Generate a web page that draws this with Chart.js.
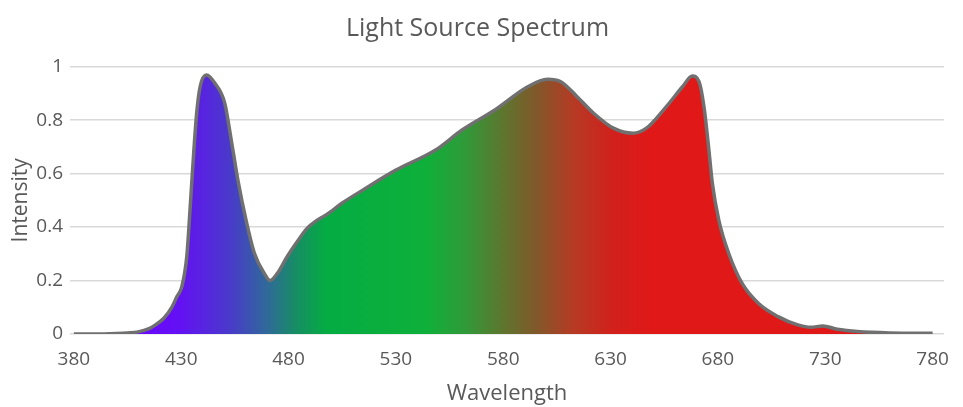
<!DOCTYPE html>
<html>
<head>
<meta charset="utf-8">
<script src="https://cdn.jsdelivr.net/npm/chart.js@4/dist/chart.umd.min.js"></script>
<style>
  html, body { margin: 0; padding: 0; background: #ffffff; }
  #wrap { width: 963px; height: 407px; position: relative; }
</style>
</head>
<body>
<div id="wrap"><canvas id="c" width="963" height="407"></canvas></div>
<script>
// ---- data ----
const wavelengths = [380, 390, 400, 405, 410, 415, 418, 422, 425.6, 428, 430.3, 432.6, 434.2, 435.7, 437.2, 438.8, 441.8, 445.7, 450.3, 453.3, 456.4, 460.2, 464.1, 468.7, 471.4, 474.8, 479.4, 484, 488.6, 493.2, 497.8, 505, 514.7, 530, 548.5, 560.8, 576.1, 591.4, 600.6, 606.8, 614.4, 622.1, 631.3, 640.5, 646.7, 655.9, 663.5, 668.1, 671.2, 673.5, 675.8, 677.4, 680.4, 685, 691.2, 698.8, 708, 717.2, 723.4, 728.8, 735.6, 744.9, 760, 780];
const intensity   = [0, 0, 0.002, 0.004, 0.008, 0.02, 0.034, 0.06, 0.10, 0.14, 0.177, 0.29, 0.476, 0.663, 0.826, 0.925, 0.969, 0.938, 0.863, 0.726, 0.576, 0.426, 0.302, 0.227, 0.20, 0.227, 0.29, 0.345, 0.395, 0.425, 0.447, 0.49, 0.539, 0.613, 0.688, 0.763, 0.838, 0.925, 0.953, 0.944, 0.888, 0.826, 0.77, 0.751, 0.77, 0.85, 0.925, 0.965, 0.944, 0.85, 0.688, 0.564, 0.426, 0.302, 0.19, 0.115, 0.065, 0.034, 0.025, 0.03, 0.018, 0.009, 0.004, 0.003];
const xTicks = [380, 430, 480, 530, 580, 630, 680, 730, 780];
const yTicks = [0, 0.2, 0.4, 0.6, 0.8, 1];
const yTickLabels = ['0', '0.2', '0.4', '0.6', '0.8', '1'];
const titleText = 'Light Source Spectrum';
const xTitle = 'Wavelength';
const yTitle = 'Intensity';

// ---- styles ----
const gradStopNm = [410, 428.8, 451.8, 470.2, 484, 497.8, 543.9, 562.3, 580.7, 594.5, 612.9, 631.3, 649.7, 780];
const gradStopColor = ['#6a08ff', '#6410f4', '#4a38cc', '#2f6a98', '#158f62', '#04ac42', '#0eb03a', '#309a38', '#60742e', '#7e5a2a', '#b63a24', '#d2201c', '#e01818', '#e01818'];
const textColor = '#595959';
const fontFam = '"Open Sans", "DejaVu Sans", sans-serif';

function fillGradient(ctx) {
  const chart = ctx.chart;
  const xs = chart.scales.x;
  if (!chart.chartArea || !xs) return '#00b040';
  const x0 = xs.getPixelForValue(gradStopNm[0]);
  const x1 = xs.getPixelForValue(gradStopNm[gradStopNm.length - 1]);
  const g = chart.ctx.createLinearGradient(x0, 0, x1, 0);
  const span = gradStopNm[gradStopNm.length - 1] - gradStopNm[0];
  gradStopNm.forEach((nm, i) => {
    g.addColorStop((nm - gradStopNm[0]) / span, gradStopColor[i]);
  });
  return g;
}

const points = wavelengths.map((w, i) => ({ x: w, y: intensity[i] }));

new Chart(document.getElementById('c'), {
  type: 'line',
  data: {
    datasets: [{
      data: points,
      borderColor: '#707070',
      borderWidth: 3.5,
      backgroundColor: fillGradient,
      fill: 'origin',
      pointRadius: 0,
      cubicInterpolationMode: 'monotone'
    }]
  },
  options: {
    responsive: false,
    animation: false,
    devicePixelRatio: 1,
    layout: { padding: { left: 0, right: 8, top: 0, bottom: 0 } },
    plugins: {
      legend: { display: false },
      tooltip: { enabled: false },
      title: {
        display: true,
        text: titleText,
        color: textColor,
        font: { family: fontFam, size: 25, weight: 'normal' },
        padding: { top: 14, bottom: 22.7 }
      }
    },
    scales: {
      x: {
        type: 'linear',
        min: 378.2,
        max: 785.3,
        afterBuildTicks: s => { s.ticks = xTicks.map(v => ({ value: v })); },
        afterFit: s => { s.height = 73; },
        grid: { display: false, drawTicks: false },
        border: { display: false },
        ticks: {
          color: textColor,
          font: { family: fontFam, size: 19 },
          padding: 14,
          maxRotation: 0,
          autoSkip: false,
          callback: v => String(v)
        },
        title: {
          display: true,
          text: xTitle,
          color: textColor,
          font: { family: fontFam, size: 22 },
          padding: { top: 0, bottom: 0 }
        }
      },
      y: {
        min: 0,
        max: 1,
        afterBuildTicks: s => { s.ticks = yTicks.map(v => ({ value: v })); },
        afterFit: s => { s.width = 70; },
        grid: { color: '#d9d9d9', lineWidth: 1.5, drawTicks: false },
        border: { display: false },
        ticks: {
          color: textColor,
          font: { family: fontFam, size: 19 },
          padding: 7,
          callback: (v) => {
            const i = yTicks.findIndex(t => Math.abs(t - v) < 1e-9);
            return i >= 0 ? yTickLabels[i] : '';
          }
        },
        title: {
          display: true,
          text: yTitle,
          color: textColor,
          font: { family: fontFam, size: 21 },
          padding: { top: 8, bottom: 0 }
        }
      }
    }
  }
});
</script>
</body>
</html>
